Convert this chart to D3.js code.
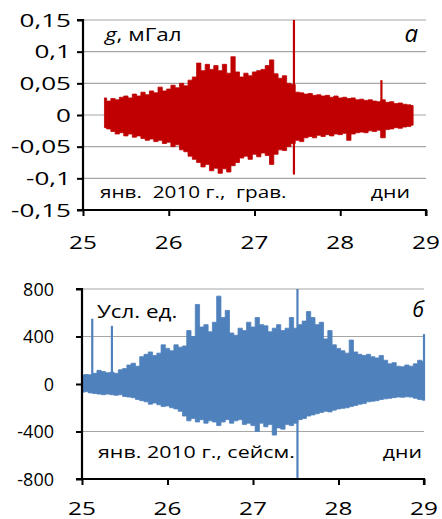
<!DOCTYPE html>
<html><head><meta charset="utf-8">
<script src="https://cdn.jsdelivr.net/npm/d3@7"></script>
<style>
body{margin:0;background:#fff}
svg{display:block}
text{font-family:"Open Sans","DejaVu Sans",sans-serif;fill:#000;white-space:pre}
</style>
</head><body>
<svg id="chart" width="442" height="519"></svg>
<script>
// Gravimeter record (mGal): upper / lower envelope sampled every 0.05 day from 25.25
const gravStart = 25.25, gravStep = 0.05;
const gravUpper = [
  0.027,0.022,0.026,0.024,0.028,0.030,0.027,0.033,0.030,0.036,
  0.032,0.038,0.035,0.044,0.038,0.041,0.047,0.043,0.050,0.046,
  0.055,0.060,0.082,0.070,0.080,0.072,0.078,0.070,0.080,0.066,
  0.092,0.068,0.060,0.066,0.062,0.068,0.070,0.072,0.078,0.087,
  0.065,0.058,0.062,0.050,0.048,0.036,0.035,0.033,0.034,0.031,
  0.032,0.030,0.031,0.028,0.030,0.027,0.028,0.026,0.027,0.024,
  0.025,0.023,0.024,0.022,0.021,0.024,0.020,0.021,0.018,0.019,
  0.017,0.016,0.015
];
const gravLower = [
  -0.020,-0.022,-0.026,-0.030,-0.028,-0.033,-0.030,-0.035,-0.033,-0.037,
  -0.040,-0.038,-0.042,-0.040,-0.045,-0.043,-0.050,-0.047,-0.055,-0.058,
  -0.065,-0.070,-0.075,-0.082,-0.078,-0.088,-0.084,-0.092,-0.085,-0.090,
  -0.080,-0.075,-0.068,-0.065,-0.070,-0.062,-0.066,-0.060,-0.064,-0.078,
  -0.062,-0.055,-0.056,-0.050,-0.045,-0.040,-0.042,-0.036,-0.034,-0.036,
  -0.032,-0.034,-0.031,-0.033,-0.030,-0.031,-0.029,-0.040,-0.030,-0.028,
  -0.027,-0.028,-0.025,-0.026,-0.024,-0.036,-0.023,-0.022,-0.020,-0.021,
  -0.019,-0.018,-0.016
];
const gravSpikes = [
  {day: 27.46, hi: 0.150, lo: -0.094},
  {day: 28.48, hi: 0.055, lo: -0.036}
];
const gravTicks = [-0.15, -0.1, -0.05, 0, 0.05, 0.1, 0.15];
const gravTickLabels = ["-0,15", "-0,1", "-0,05", "0", "0,05", "0,1", "0,15"];

// Seismometer record (arb. units): envelope every 0.05 day from 25.00
const seisStart = 25.0, seisStep = 0.05;
const seisUpper = [
  75,80,78,90,115,105,95,100,90,120,
  130,160,175,150,230,250,270,240,260,330,
  300,280,330,310,320,450,400,670,480,500,
  440,520,740,560,620,430,410,470,450,520,
  480,560,500,490,440,470,500,450,470,560,
  470,500,530,610,560,500,520,380,450,330,
  300,280,260,370,270,250,240,250,230,220,
  240,200,170,180,150,145,160,150,170,200,
  190
];
const seisLower = [
  -70,-65,-75,-80,-85,-90,-85,-90,-95,-90,
  -105,-110,-115,-130,-140,-150,-170,-160,-175,-190,
  -185,-200,-210,-230,-270,-310,-290,-320,-300,-330,
  -310,-320,-350,-320,-300,-330,-310,-300,-340,-330,
  -350,-400,-330,-360,-340,-430,-370,-380,-340,-350,
  -330,-300,-290,-270,-260,-250,-240,-230,-235,-220,
  -210,-205,-200,-190,-180,-170,-165,-150,-145,-140,
  -130,-125,-120,-115,-110,-112,-108,-110,-120,-130,
  -135
];
const seisSpikes = [
  {day: 25.12, hi: 550, lo: -60},
  {day: 25.35, hi: 490, lo: -80},
  {day: 27.52, hi: 800, lo: -800},
  {day: 29.00, hi: 420, lo: -140}
];
const seisTicks = [-800, -400, 0, 400, 800];
const seisTickLabels = ["-800", "-400", "0", "400", "800"];

const dayTicks = [25, 26, 27, 28, 29];

const svg = d3.select("#chart");

// text widened horizontally by sx, as in the original figure
function label(g, x, y, anchor, size, sx, parts) {
  const t = g.append("text")
    .attr("transform", `translate(${x},${y}) scale(${sx},1)`)
    .attr("text-anchor", anchor)
    .attr("xml:space", "preserve")
    .attr("font-size", size);
  parts.forEach(p => {
    t.append("tspan").attr("font-style", p.italic ? "italic" : null).text(p.t);
  });
  return t;
}

function panel(cfg) {
  const g = svg.append("g");
  const x = d3.scaleLinear().domain([25, 29]).range([cfg.left, cfg.right]);
  const y = d3.scaleLinear().domain(cfg.domain).range([cfg.bottom, cfg.top]);

  // horizontal gridlines
  g.append("g").selectAll("line").data(cfg.ticks.filter(v => v !== cfg.domain[0])).join("line")
    .attr("x1", cfg.left).attr("x2", cfg.right)
    .attr("y1", d => y(d)).attr("y2", d => y(d))
    .attr("stroke", "#a6a6a6").attr("stroke-width", 1.2);

  // signal envelope
  const pts = cfg.upper.map((u, i) => ({day: cfg.start + i * cfg.step, hi: u, lo: cfg.lower[i]}));
  const area = d3.area().curve(d3.curveStep)
    .x(d => x(d.day)).y0(d => y(d.lo)).y1(d => y(d.hi));
  g.append("path").datum(pts).attr("d", area)
    .attr("fill", cfg.color).attr("stroke", cfg.color).attr("stroke-width", 0.8);

  // isolated spikes
  g.append("g").selectAll("line").data(cfg.spikes).join("line")
    .attr("x1", d => x(d.day)).attr("x2", d => x(d.day))
    .attr("y1", d => y(d.hi)).attr("y2", d => y(d.lo))
    .attr("stroke", cfg.color).attr("stroke-width", 2.2);

  // axes
  const yAxis = d3.axisLeft(y).tickValues(cfg.ticks).tickSize(6).tickFormat(() => "");
  g.append("g").attr("transform", `translate(${cfg.left},0)`).call(yAxis)
    .call(a => a.select(".domain").attr("stroke-width", 2.2).attr("d", `M-6,${cfg.top}H0V${cfg.bottom}H-6`))
    .call(a => a.selectAll(".tick line").attr("stroke-width", 2));
  const xAxis = d3.axisBottom(x).tickValues(dayTicks).tickSize(6).tickFormat(() => "");
  g.append("g").attr("transform", `translate(0,${cfg.bottom})`).call(xAxis)
    .call(a => a.select(".domain").attr("stroke-width", 2.2).attr("d", `M${cfg.left},0H${cfg.right}V6`))
    .call(a => a.selectAll(".tick line").attr("stroke-width", 2));

  // tick labels
  cfg.ticks.forEach((v, i) => {
    label(g, cfg.yLabelRight, y(v) + 6.5, "end", 18, cfg.yLabelSx, [{t: cfg.tickLabels[i]}]);
  });
  dayTicks.forEach(d => {
    label(g, x(d), cfg.bottom + cfg.xLabelDy, "middle", 19, 1.28, [{t: String(d)}]);
  });

  // captions inside the plot
  cfg.captions.forEach(c => label(g, c.x, c.y, c.anchor, c.size, c.sx, c.parts));
}

panel({
  left: 83, right: 426, top: 20, bottom: 210,
  domain: [-0.15, 0.15], ticks: gravTicks, tickLabels: gravTickLabels,
  start: gravStart, step: gravStep, upper: gravUpper, lower: gravLower, spikes: gravSpikes,
  color: "#c00000", yLabelRight: 71, yLabelSx: 1.45, xLabelDy: 39,
  captions: [
    {x: 105, y: 41, anchor: "start", size: 17.5, sx: 1.28, parts: [{t: "g", italic: true}, {t: ", мГал"}]},
    {x: 418, y: 42, anchor: "end", size: 24, sx: 1.0, parts: [{t: "а", italic: true}]},
    {x: 100, y: 198, anchor: "start", size: 17, sx: 1.22, parts: [{t: "янв.  2010 г.,  грав."}]},
    {x: 410, y: 198, anchor: "end", size: 17, sx: 1.25, parts: [{t: "дни"}]}
  ]
});

panel({
  left: 82, right: 424, top: 289, bottom: 479,
  domain: [-800, 800], ticks: seisTicks, tickLabels: seisTickLabels,
  start: seisStart, step: seisStep, upper: seisUpper, lower: seisLower, spikes: seisSpikes,
  color: "#4f81bd", yLabelRight: 54, yLabelSx: 1.0, xLabelDy: 36,
  captions: [
    {x: 97, y: 318, anchor: "start", size: 17.5, sx: 1.28, parts: [{t: "Усл. ед."}]},
    {x: 424, y: 317, anchor: "end", size: 21, sx: 1.0, parts: [{t: "б", italic: true}]},
    {x: 98, y: 458, anchor: "start", size: 17, sx: 1.26, parts: [{t: "янв. 2010 г., сейсм."}]},
    {x: 422, y: 458, anchor: "end", size: 17, sx: 1.25, parts: [{t: "дни"}]}
  ]
});
</script>
</body></html>
